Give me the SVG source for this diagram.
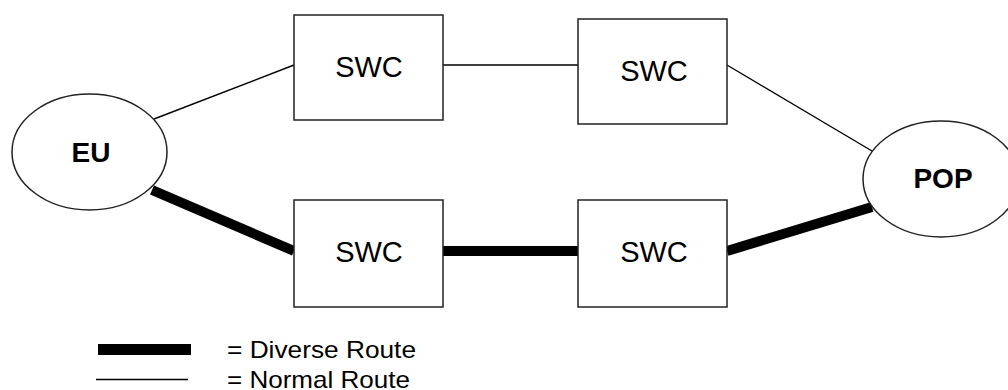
<svg xmlns="http://www.w3.org/2000/svg" width="1008" height="390" viewBox="0 0 1008 390">
<style>
.node{fill:#fff;stroke:#222;stroke-width:1.5}
.lbl{font-family:"Liberation Sans",Arial,sans-serif;font-size:29px;fill:#000;text-anchor:middle}
.bold{font-weight:bold;font-size:28px}
.thin{stroke:#000;stroke-width:1.4;fill:none}
.thick{stroke:#000;stroke-width:10;fill:none}
.leg{font-family:"Liberation Sans",Arial,sans-serif;font-size:24px;fill:#000}
</style>
<rect width="1008" height="390" fill="#fff"/>
<g id="connectors">
<line class="thin" x1="154" y1="119" x2="294" y2="65"/>
<line class="thin" x1="443" y1="65" x2="578" y2="65"/>
<line class="thin" x1="727" y1="65" x2="872" y2="151"/>
<line class="thick" x1="152" y1="190" x2="294" y2="251"/>
<line class="thick" x1="443" y1="251" x2="578" y2="251"/>
<line class="thick" x1="727" y1="251" x2="872" y2="207"/>
</g>
<g id="eu">
<ellipse class="node" cx="89.5" cy="152" rx="77.5" ry="58"/>
<text class="lbl bold" x="91" y="162">EU</text>
</g>
<g id="pop">
<ellipse class="node" cx="941" cy="179" rx="78" ry="58"/>
<text class="lbl bold" x="943" y="188">POP</text>
</g>
<g id="swc1">
<rect class="node" x="294" y="15" width="149" height="105"/>
<text class="lbl" x="369" y="77">SWC</text>
</g>
<g id="swc2">
<rect class="node" x="578" y="19" width="149" height="105"/>
<text class="lbl" x="654" y="81">SWC</text>
</g>
<g id="swc3">
<rect class="node" x="294" y="200" width="149" height="107"/>
<text class="lbl" x="369" y="262">SWC</text>
</g>
<g id="swc4">
<rect class="node" x="578" y="200" width="149" height="107"/>
<text class="lbl" x="654" y="262">SWC</text>
</g>
<g id="legend">
<rect x="98" y="344" width="93" height="11" fill="#000"/>
<line class="thin" x1="96" y1="379.5" x2="188" y2="379.5"/>
<text class="leg" x="227" y="358" textLength="189" lengthAdjust="spacingAndGlyphs">= Diverse Route</text>
<text class="leg" x="227" y="388" textLength="183" lengthAdjust="spacingAndGlyphs">= Normal Route</text>
</g>
</svg>
